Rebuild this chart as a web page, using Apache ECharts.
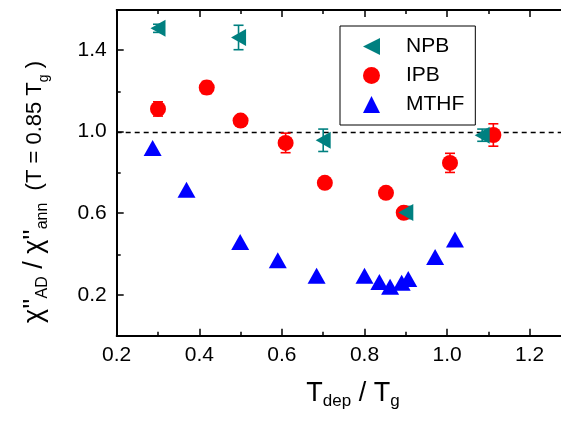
<!DOCTYPE html>
<html>
<head>
<meta charset="utf-8">
<script src="https://cdn.jsdelivr.net/npm/echarts@6/dist/echarts.min.js"></script>
<style>
  html, body { margin: 0; padding: 0; background: #fff; }
  #main { width: 561px; height: 422px; }
</style>
</head>
<body>
<div id="main"></div>
<script>
// data: [Tdep/Tg, chi''AD/chi''ann]
var npbX = [0.30, 0.495, 0.70, 0.90, 1.085];
var npbY = [1.51, 1.465, 0.96, 0.605, 0.985];
var npbErr = [0.02, 0.06, 0.055, 0.03, 0.03];

var ipbX = [0.30, 0.418, 0.50, 0.609, 0.704, 0.852, 0.895, 1.007, 1.112];
var ipbY = [1.114, 1.219, 1.057, 0.947, 0.751, 0.702, 0.604, 0.849, 0.986];
var ipbErr = [0.035, 0.03, 0.02, 0.048, 0.02, 0.02, 0.02, 0.047, 0.055];

var mthfX = [0.287, 0.369, 0.499, 0.59, 0.684, 0.80, 0.836, 0.862, 0.89, 0.906, 0.971, 1.019];
var mthfY = [0.922, 0.717, 0.460, 0.371, 0.294, 0.294, 0.264, 0.24, 0.26, 0.278, 0.387, 0.472];

var xTicks = { min: 0.2, max: 1.4, step: 0.2 };
var yMajor = { min: 0.2, max: 1.4, step: 0.4 };
var yMinor = { min: 0, max: 1.6, step: 0.4 };

var FONT = 'Liberation Sans, Arial, sans-serif';
var TEAL = '#008080', RED = '#ff0000', BLUE = '#0000ff';
var leftTri = 'path://M0,5L10,0L10,10Z';

function pts(xs, ys, es) {
  return xs.map(function (x, i) { return es ? [x, ys[i], es[i]] : [x, ys[i]]; });
}

function errSeries(name, color, xs, ys, es) {
  return {
    name: name + ' err',
    type: 'custom',
    xAxisIndex: 0, yAxisIndex: 0,
    z: 2,
    silent: true,
    data: pts(xs, ys, es),
    renderItem: function (params, api) {
      var x = api.value(0), y = api.value(1), e = api.value(2);
      var t = api.coord([x, y + e]), b = api.coord([x, y - e]);
      var w = 5;
      var st = { stroke: color, lineWidth: 1.6 };
      return {
        type: 'group',
        children: [
          { type: 'line', shape: { x1: t[0], y1: t[1], x2: b[0], y2: b[1] }, style: st },
          { type: 'line', shape: { x1: t[0] - w, y1: t[1], x2: t[0] + w, y2: t[1] }, style: st },
          { type: 'line', shape: { x1: b[0] - w, y1: b[1], x2: b[0] + w, y2: b[1] }, style: st }
        ]
      };
    }
  };
}

var axisLine = { show: true, lineStyle: { color: '#000', width: 2 } };
var tickStyle = { color: '#000', width: 1.5 };

var chart = echarts.init(document.getElementById('main'));
chart.setOption({
  animation: false,
  backgroundColor: '#fff',
  grid: [
    { left: 116.7, width: 495.6, top: 10, bottom: 86.3, outerBoundsMode: 'none', containLabel: false },
    { left: 116.7, width: 495.6, top: 49.8, bottom: 127.1, outerBoundsMode: 'none', containLabel: false }
  ],
  legend: {
    data: ['NPB', 'IPB', 'MTHF'],
    orient: 'vertical',
    left: 340, top: 26,
    padding: [10, 11, 10, 23],
    itemWidth: 17, itemHeight: 17, itemGap: 8,
    borderColor: '#000', borderWidth: 1,
    backgroundColor: '#fff',
    textStyle: { fontFamily: FONT, fontSize: 21, lineHeight: 17, color: '#000', padding: [0, 0, 0, 21] }
  },
  xAxis: [
    {
      type: 'value', gridIndex: 0, position: 'bottom',
      min: xTicks.min, max: xTicks.max, interval: xTicks.step,
      axisLine: axisLine,
      axisTick: { inside: true, length: 7, lineStyle: tickStyle },
      minorTick: { show: true, splitNumber: 2, length: 4, lineStyle: tickStyle },
      splitLine: { show: false },
      axisLabel: { fontFamily: FONT, fontSize: 21, color: '#000', margin: 9,
        showMaxLabel: false, formatter: function (v) { return v.toFixed(1); } }
    },
    {
      type: 'value', gridIndex: 1, show: false,
      min: xTicks.min, max: xTicks.max
    },
    {
      type: 'value', gridIndex: 0, position: 'top',
      min: xTicks.min, max: xTicks.max, interval: xTicks.step,
      axisLine: axisLine,
      axisTick: { inside: true, length: 7, lineStyle: tickStyle },
      minorTick: { show: true, splitNumber: 2, length: 4, lineStyle: tickStyle },
      splitLine: { show: false },
      axisLabel: { show: false }
    }
  ],
  yAxis: [
    {
      type: 'value', gridIndex: 0,
      min: yMinor.min, max: yMinor.max, interval: yMinor.step,
      axisLine: axisLine,
      axisTick: { inside: true, length: 4, lineStyle: tickStyle },
      splitLine: { show: false },
      axisLabel: { show: false }
    },
    {
      type: 'value', gridIndex: 1,
      min: yMajor.min, max: yMajor.max, interval: yMajor.step,
      axisLine: { show: false },
      axisTick: { inside: true, length: 7, lineStyle: tickStyle },
      splitLine: { show: false },
      axisLabel: { fontFamily: FONT, fontSize: 21, color: '#000', margin: 10,
        formatter: function (v) { return v.toFixed(1); } }
    }
  ],
  graphic: [
    {
      type: 'text', x: 353, y: 394, z: 10,
      style: {
        text: '{m|T}{s|dep}{m| / T}{s|g}',
        align: 'center', verticalAlign: 'middle',
        rich: {
          m: { fontFamily: FONT, fontSize: 27, color: '#000', lineHeight: 32 },
          s: { fontFamily: FONT, fontSize: 17, color: '#000', lineHeight: 14, verticalAlign: 'bottom' }
        }
      }
    },
    {
      type: 'text', x: 35, y: 192, rotation: Math.PI / 2, z: 10,
      style: {
        text: '{m|\u03c7\'\'}{s|AD}{m| / \u03c7\'\'}{s|ann}{p|  (T = 0.85 T}{q|g}{p| )}',
        align: 'center', verticalAlign: 'middle',
        rich: {
          m: { fontFamily: FONT, fontSize: 27, color: '#000', lineHeight: 32 },
          s: { fontFamily: FONT, fontSize: 16, color: '#000', lineHeight: 12, verticalAlign: 'bottom' },
          p: { fontFamily: FONT, fontSize: 22, color: '#000', lineHeight: 26 },
          q: { fontFamily: FONT, fontSize: 14, color: '#000', lineHeight: 12, verticalAlign: 'bottom' }
        }
      }
    }
  ],
  series: [
    {
      name: 'MTHF', type: 'scatter', xAxisIndex: 0, yAxisIndex: 0, z: 3,
      symbol: 'triangle', symbolSize: [18, 16],
      itemStyle: { color: BLUE, opacity: 1 },
      data: pts(mthfX, mthfY),
      markLine: {
        silent: true, symbol: 'none', z: 1,
        label: { show: false },
        lineStyle: { color: '#000', width: 1.3, type: [5, 4] },
        data: [{ yAxis: 1.0 }]
      }
    },
    errSeries('IPB', RED, ipbX, ipbY, ipbErr),
    {
      name: 'IPB', type: 'scatter', xAxisIndex: 0, yAxisIndex: 0, z: 4,
      symbol: 'circle', symbolSize: 16,
      itemStyle: { color: RED, opacity: 1 },
      data: pts(ipbX, ipbY)
    },
    errSeries('NPB', TEAL, npbX, npbY, npbErr),
    {
      name: 'NPB', type: 'scatter', xAxisIndex: 0, yAxisIndex: 0, z: 5,
      symbol: leftTri, symbolSize: [15, 17],
      itemStyle: { color: TEAL, opacity: 1 },
      data: pts(npbX, npbY)
    }
  ]
});
</script>
</body>
</html>
